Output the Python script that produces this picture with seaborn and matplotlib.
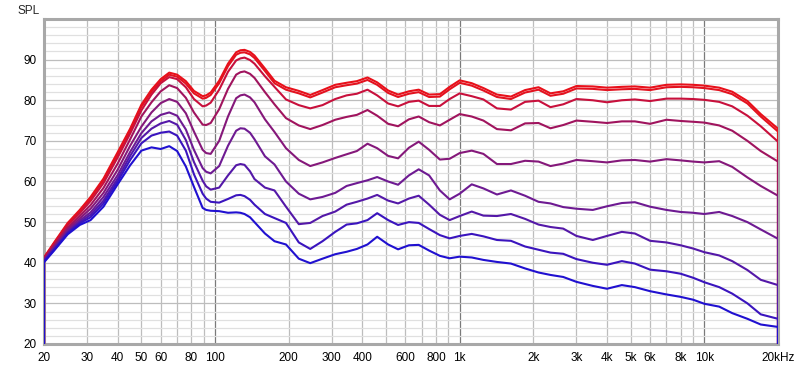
import matplotlib
matplotlib.use("Agg")
import matplotlib.pyplot as plt
import pandas as pd
import seaborn as sns

# ---------------- data ----------------
freqs = [20, 22, 25, 28, 31, 35, 40, 45, 50, 55,
         60, 65, 70, 76, 82, 89, 92, 96, 104, 113, 122, 127,
         132, 139, 145, 160, 175, 195, 220, 245, 275, 310, 345,
         380, 420, 460, 510, 560, 620, 680, 750, 830, 910,
         1000, 1120, 1250, 1420, 1620, 1850, 2100, 2350, 2650, 3000,
         3500, 4000, 4600, 5200, 6000, 7000, 8000, 9000, 10000, 11500,
         13000, 15000, 17000, 20000]

spl_1 = [41.3, 45.0, 49.8, 53.0, 56.2, 60.7, 67.2, 73.0, 78.9, 82.6,
         85.2, 86.8, 86.3, 84.7, 82.3, 81.0, 81.2, 81.9, 84.8, 89.0, 91.8, 92.3,
         92.4, 91.9, 91.0, 87.8, 84.8, 83.2, 82.3, 81.3, 82.5, 83.8, 84.3,
         84.7, 85.6, 84.4, 82.4, 81.4, 82.2, 82.6, 81.4, 81.5, 83.3,
         84.9, 84.2, 83.0, 81.4, 80.9, 82.5, 83.2, 81.7, 82.2, 83.5,
         83.4, 83.1, 83.3, 83.4, 83.1, 83.8, 83.9, 83.8, 83.6, 83.1,
         82.1, 79.8, 76.6, 73.0]
spl_2 = [41.2, 44.8, 49.5, 52.7, 55.8, 60.3, 66.7, 72.5, 78.4, 82.1,
         84.7, 86.3, 85.8, 84.1, 81.7, 80.4, 80.6, 81.3, 84.2, 88.4, 91.2, 91.7,
         91.8, 91.3, 90.4, 87.2, 84.2, 82.6, 81.7, 80.7, 81.9, 83.2, 83.7,
         84.1, 85.0, 83.8, 81.8, 80.8, 81.6, 82.0, 80.8, 80.9, 82.7,
         84.3, 83.6, 82.4, 80.8, 80.3, 81.9, 82.6, 81.1, 81.6, 82.9,
         82.8, 82.5, 82.7, 82.8, 82.5, 83.2, 83.3, 83.2, 83.0, 82.5,
         81.5, 79.2, 76.0, 72.3]
spl_3 = [41.1, 44.6, 49.2, 52.2, 55.2, 59.6, 65.9, 71.8, 77.5, 81.4,
         84.2, 85.7, 85.2, 83.2, 80.3, 78.5, 78.7, 79.4, 82.6, 87.0, 89.8, 90.3,
         90.5, 89.9, 89.0, 85.9, 83.3, 80.2, 78.8, 78.0, 78.8, 80.3, 81.2,
         81.6, 82.6, 81.2, 79.2, 78.5, 79.6, 79.9, 78.6, 78.6, 80.3,
         81.7, 81.0, 80.2, 78.0, 77.7, 79.6, 79.9, 78.3, 79.0, 80.3,
         80.0, 79.5, 80.0, 80.2, 79.8, 80.4, 80.4, 80.3, 80.1, 79.6,
         78.5, 76.2, 73.6, 69.8]
spl_4 = [40.9, 44.2, 48.6, 51.5, 54.2, 58.4, 64.4, 70.4, 76.0, 79.5,
         82.2, 83.7, 83.0, 80.6, 77.0, 74.0, 73.9, 74.4, 77.8, 82.8, 86.3, 86.9,
         87.1, 86.5, 85.5, 82.0, 79.0, 75.6, 73.8, 72.9, 73.9, 75.2, 75.9,
         76.4, 77.6, 76.2, 74.2, 73.6, 75.3, 76.0, 74.6, 73.8, 75.2,
         76.6, 76.0, 75.0, 72.9, 72.6, 74.3, 74.4, 73.1, 73.9, 75.0,
         74.7, 74.4, 74.8, 74.8, 74.2, 75.2, 74.9, 74.7, 74.5, 73.8,
         72.5, 70.0, 67.5, 64.9]
spl_5 = [40.7, 43.9, 48.2, 50.9, 53.3, 57.2, 62.9, 68.8, 73.5, 77.0,
         79.3, 80.3, 79.6, 76.8, 72.3, 67.8, 67.0, 66.8, 70.0, 76.0, 80.5, 81.2,
         81.4, 80.7, 79.5, 75.3, 72.2, 68.2, 65.3, 63.8, 64.7, 65.8, 66.7,
         67.5, 69.3, 68.2, 66.3, 65.7, 68.3, 69.8, 67.8, 65.4, 65.6,
         67.0, 67.6, 66.8, 64.3, 64.3, 65.1, 64.9, 63.8, 64.4, 65.3,
         65.0, 64.7, 65.2, 65.3, 64.9, 65.5, 65.2, 64.9, 64.7, 65.0,
         63.6, 61.0, 58.9, 56.5]
spl_6 = [40.5, 43.6, 47.8, 50.4, 52.4, 56.2, 61.6, 67.3, 71.9, 74.8,
         76.4, 77.0, 76.2, 72.8, 67.8, 63.3, 62.4, 62.0, 63.8, 68.8, 72.5, 73.1,
         73.0, 72.0, 70.4, 66.2, 64.2, 60.0, 57.0, 55.6, 56.2, 57.2, 58.9,
         59.6, 60.3, 61.1, 60.0, 59.2, 61.5, 63.0, 61.5, 57.8, 55.6,
         57.0, 59.3, 58.3, 56.8, 57.8, 56.5, 55.0, 54.6, 53.7, 53.3,
         53.0, 53.9, 54.7, 54.9, 53.8, 53.0, 52.5, 52.3, 52.0, 52.5,
         51.5, 50.0, 48.2, 45.9]
spl_7 = [40.4, 43.4, 47.5, 50.0, 51.8, 55.3, 60.7, 66.3, 70.7, 73.0,
         74.3, 74.9, 74.0, 70.2, 64.8, 60.2, 58.8, 58.0, 58.5, 61.5, 64.0, 64.3,
         64.1, 62.5, 60.6, 58.5, 57.8, 53.8, 49.5, 49.8, 51.5, 52.6, 54.3,
         55.0, 55.8, 56.7, 55.3, 54.6, 55.8, 56.5, 54.3, 51.8, 50.5,
         51.5, 52.6, 51.6, 51.5, 52.0, 50.8, 49.4, 48.8, 48.4, 46.6,
         45.6, 46.6, 47.6, 47.2, 45.4, 45.0, 44.3, 43.5, 42.6, 41.8,
         40.4, 38.2, 35.8, 34.5]
spl_8 = [40.3, 43.2, 47.3, 49.7, 51.2, 54.6, 60.0, 65.3, 69.4, 71.3,
         72.0, 72.3, 71.3, 67.6, 61.8, 57.0, 55.8, 55.0, 54.8, 55.7, 56.6, 56.7,
         56.4, 55.5, 54.3, 52.0, 51.0, 49.8, 45.0, 43.4, 45.3, 47.6, 49.4,
         49.7, 50.5, 52.2, 50.5, 49.3, 50.0, 49.8, 48.3, 46.8, 46.0,
         46.6, 47.1, 46.5, 45.6, 45.4, 44.0, 43.2, 42.5, 42.2, 40.9,
         40.0, 39.5, 40.4, 39.8, 38.3, 37.9, 37.3, 36.3, 35.2, 34.0,
         32.4, 30.0, 27.3, 26.2]
spl_9 = [40.1, 43.0, 47.0, 49.3, 50.5, 53.8, 59.3, 64.0, 67.6, 68.4,
         68.0, 68.7, 67.5, 63.7, 58.7, 53.5, 53.0, 52.8, 52.7, 52.3, 52.4, 52.3,
         52.0, 51.2, 50.0, 47.2, 45.3, 44.5, 41.0, 39.9, 41.0, 42.1, 42.7,
         43.4, 44.5, 46.4, 44.5, 43.3, 44.3, 44.4, 43.0, 41.7, 41.1,
         41.5, 41.3, 40.7, 40.2, 39.8, 38.6, 37.6, 37.0, 36.5, 35.3,
         34.3, 33.6, 34.5, 34.0, 33.0, 32.2, 31.6, 30.9, 29.9, 29.2,
         27.6, 26.2, 24.8, 24.2]

curve_names = ["m1", "m2", "m3", "m4", "m5", "m6", "m7", "m8", "m9"]
curve_values = [spl_1, spl_2, spl_3, spl_4, spl_5, spl_6, spl_7, spl_8, spl_9]
curve_colors = ["#E8101A", "#E3121F", "#C8103C", "#A0145E", "#85187A",
                "#6E1A92", "#5418A8", "#3A14BE", "#2010D0"]

# traces drop off vertically at both ends of the measured range
edge_floor_db = 0.0

xtick_freqs = [20, 30, 40, 50, 60, 80, 100, 200, 300, 400, 600, 800,
               1000, 2000, 3000, 4000, 5000, 6000, 8000, 10000, 20000]
xtick_labels = ["20", "30", "40", "50", "60", "80", "100", "200", "300", "400",
                "600", "800", "1k", "2k", "3k", "4k", "5k", "6k", "8k", "10k", "20kHz"]
ytick_vals = [20, 30, 40, 50, 60, 70, 80, 90, 100]
ytick_labels = ["20", "30", "40", "50", "60", "70", "80", "90", ""]

# ---------------- build table ----------------
rows = []
for name, vals in zip(curve_names, curve_values):
    fs = [freqs[0]] + freqs + [freqs[-1]]
    vs = [edge_floor_db] + vals + [edge_floor_db]
    for f, v in zip(fs, vs):
        rows.append((name, f, v))
df = pd.DataFrame(rows, columns=["curve", "freq", "spl"])

# ---------------- style ----------------
sns.set_style("white")
plt.rcParams["font.family"] = ["Liberation Sans", "DejaVu Sans"]

fig = plt.figure(figsize=(8, 3.7), dpi=100)
fig.patch.set_facecolor("white")
ax = fig.add_axes([44 / 800, 26 / 370, 734 / 800, 325 / 370])
ax.set_xscale("log")

sns.lineplot(data=df, x="freq", y="spl", hue="curve", hue_order=curve_names,
             palette=curve_colors, estimator=None, sort=False, legend=False,
             linewidth=1.5, ax=ax, zorder=3,
             solid_joinstyle="round", solid_capstyle="round")

ax.set_xlim(20, 20000)
ax.set_ylim(20, 100)

# x grid: every integer multiple of each decade
grid_freqs = []
for dec in (10, 100, 1000, 10000):
    for m in range(1, 10):
        f = dec * m
        if 20 <= f <= 20000:
            grid_freqs.append(f)
label_map = dict(zip(xtick_freqs, xtick_labels))
ax.set_xticks(grid_freqs)
ax.set_xticklabels([label_map.get(f, "") for f in grid_freqs])
ax.xaxis.set_minor_locator(matplotlib.ticker.NullLocator())

ax.set_yticks(ytick_vals)
ax.set_yticklabels(ytick_labels)
ax.yaxis.set_minor_locator(matplotlib.ticker.MultipleLocator(2))

ax.set_axisbelow(True)
ax.grid(True, which="major", axis="both", color="#BDBDBD", linewidth=0.9)
ax.grid(True, which="minor", axis="y", color="#E0E0E0", linewidth=0.9)
for f, tick in zip(grid_freqs, ax.xaxis.get_major_ticks()):
    if f in (100, 1000, 10000):
        tick.gridline.set_color("#7A7A7A")

ax.tick_params(axis="both", which="both", length=0, labelsize=8.5, colors="black")
ax.tick_params(axis="x", pad=6)
ax.tick_params(axis="y", pad=5)

for side, sp in ax.spines.items():
    sp.set_visible(True)
    sp.set_color("#A8A8A8")
    sp.set_linewidth(2.2)
    sp.set_zorder(2.5)

ax.set_xlabel("")
ax.set_ylabel("")
fig.text(17 / 800, 1 - 10.5 / 370, "SPL", ha="left", va="center", fontsize=8.5)

fig.savefig("out.png", dpi=100, facecolor="white")
